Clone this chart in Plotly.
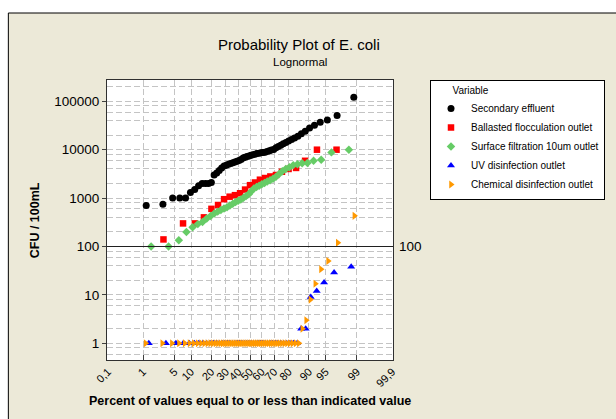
import plotly.graph_objects as go
from statistics import NormalDist

nd = NormalDist()

# ---- data (CFU/100mL) ----
secondary_effluent = [700, 750, 1000, 1000, 1000, 1300, 1500, 1800, 2000, 2000,
                      2000, 2100, 3000, 3300, 3700, 4200, 4600, 4800, 5000, 5200,
                      5400, 5600, 5750, 6000, 6300, 6700, 7000, 7200, 7400, 7700,
                      7900, 8100, 8300, 8400, 8600, 8750, 8900, 9200, 9500, 9800,
                      10100, 11000, 11700, 12400, 13200, 14100, 15100, 16200, 17400, 19000,
                      21400, 24000, 28000, 32000, 37000, 41000, 51000, 121000]
ballasted_flocculation = [140, 300, 300, 400, 600, 720, 950, 1070, 1150, 1260,
                          1500, 1850, 2100, 2400, 2600, 2800, 3000, 3500, 4000, 4200,
                          5900, 10000, 10000]
surface_filtration = [100, 100, 135, 200, 250, 290, 320, 380, 425, 480,
                      525, 565, 610, 650, 700, 760, 825, 880, 940, 1020,
                      1100, 1200, 1380, 1580, 1700, 1800, 1930, 2050, 2200, 2340,
                      2500, 2750, 3150, 3600, 4000, 4350, 4800, 5000, 5250, 5300,
                      5900, 6200, 8800, 10000]
uv_disinfection = [1] * 43 + [2, 2, 9, 12, 18, 29, 38]
chemical_disinfection = [1] * 52 + [2, 3, 8, 17, 34, 50, 120, 430]

series_names = ["Secondary effluent", "Ballasted flocculation outlet",
                "Surface filtration 10um outlet", "UV disinfection outlet",
                "Chemical disinfection outlet"]
series_values = [secondary_effluent, ballasted_flocculation, surface_filtration,
                 uv_disinfection, chemical_disinfection]

percent_ticks = [0.1, 1, 5, 10, 20, 30, 40, 50, 60, 70, 80, 90, 95, 99, 99.9]
percent_labels = ["0,1", "1", "5", "10", "20", "30", "40", "50", "60", "70",
                  "80", "90", "95", "99", "99,9"]
y_ticks = [1, 10, 100, 1000, 10000, 100000]
y_labels = ["1", "10", "100", "1000", "10000", "100000"]
reference_value = 100

# ---- styles ----
symbols = ["circle", "square", "diamond", "triangle-up", "triangle-right"]
colors = ["#000000", "#FF0000", "#66CC66", "#0000FF", "#FF9900"]
sizes = [7, 6.5, 6.5, 7, 7]

BEIGE = "#ECE9D8"
GRID = "#C4C4C4"
FONT = "Liberation Sans"

fig = go.Figure()
for name, vals, sym, col, sz in zip(series_names, series_values, symbols, colors, sizes):
    sv = sorted(vals)
    n = len(sv)
    # Minitab median-rank plotting positions, mapped to the normal probability scale
    xs = [nd.inv_cdf((i + 1 - 0.3) / (n + 0.4)) for i in range(n)]
    fig.add_trace(go.Scatter(
        x=xs, y=sv, mode="markers", name=name,
        marker=dict(symbol=sym, color=col, size=sz, line=dict(width=0)),
    ))

minor_grid = [m * 10 ** k for k in range(-1, 6) for m in (2, 4, 6, 8)]

fig.update_layout(
    width=616, height=419,
    margin=dict(l=107, r=222, t=80, b=59),
    paper_bgcolor=BEIGE, plot_bgcolor="white",
    font=dict(family=FONT, color="black"),
    showlegend=True,
    legend=dict(
        x=(430 - 107) / 287, y=1.0, xanchor="left", yanchor="top",
        bgcolor="white", bordercolor="black", borderwidth=1,
        font=dict(family=FONT, size=10, color="black"),
        title=dict(text="&nbsp;&nbsp;&nbsp;&nbsp;&nbsp;&nbsp;&nbsp;Variable",
                   font=dict(family=FONT, size=10)),
        tracegroupgap=0,
    ),
    xaxis=dict(
        range=[-3.11, 3.11],
        tickmode="array",
        tickvals=[nd.inv_cdf(p / 100) for p in percent_ticks],
        ticktext=percent_labels,
        tickangle=-45,
        ticks="inside", ticklen=5, tickcolor="#404040",
        tickfont=dict(size=11, color="black"),
        showgrid=True, gridcolor=GRID, griddash="6px,3px", gridwidth=1,
        showline=True, linecolor="#303030", linewidth=1, mirror=True,
        zeroline=False,
    ),
    yaxis=dict(
        type="log",
        range=[-0.345, 5.44],
        tickmode="array", tickvals=y_ticks, ticktext=y_labels,
        ticks="outside", ticklen=4, tickcolor="#404040",
        tickfont=dict(size=13.5, color="black"),
        showgrid=True, gridcolor=GRID, griddash="6px,3px", gridwidth=1,
        minor=dict(tickmode="array", tickvals=minor_grid, ticks="",
                   showgrid=True, gridcolor=GRID, griddash="6px,3px", gridwidth=1),
        showline=True, linecolor="#303030", linewidth=1, mirror=True,
        zeroline=False,
    ),
)

# outer frame: white margin strips + black border (as in the Minitab graph window)
fx0 = (8 - 107) / 287
fy0 = (360 - 13) / 280
fig.add_shape(type="rect", xref="paper", yref="paper", x0=-0.5, x1=1.9, y0=fy0, y1=1.5,
              fillcolor="white", line=dict(width=0), layer="below")
fig.add_shape(type="rect", xref="paper", yref="paper", x0=-0.5, x1=fx0, y0=-0.5, y1=1.5,
              fillcolor="white", line=dict(width=0), layer="below")
fig.add_shape(type="rect", xref="paper", yref="paper", x0=fx0, x1=1.9, y0=-0.5, y1=fy0,
              fillcolor="rgba(0,0,0,0)", line=dict(color="black", width=1), layer="below")

# reference line at 100
fig.add_shape(type="line", xref="x domain", x0=0, x1=1, yref="y",
              y0=reference_value, y1=reference_value,
              line=dict(color="#202020", width=1), layer="above")

fig.add_annotation(text=str(reference_value), xref="paper", x=1, xanchor="left", xshift=4,
                   yref="y", y=2, yanchor="middle", showarrow=False,
                   font=dict(size=13.5, color="black"))

# titles
fig.add_annotation(text="Probability Plot of E. coli", xref="paper", yref="paper",
                   x=(300 - 107) / 287, y=(360 - 44) / 280, xanchor="center", yanchor="middle",
                   showarrow=False, font=dict(size=15, color="black"))
fig.add_annotation(text="Lognormal", xref="paper", yref="paper",
                   x=(301 - 107) / 287, y=(360 - 62) / 280, xanchor="center", yanchor="middle",
                   showarrow=False, font=dict(size=11.5, color="black"))
fig.add_annotation(text="<b>CFU / 100mL</b>", xref="paper", yref="paper",
                   x=(35 - 107) / 287, y=0.5, xanchor="center", yanchor="middle",
                   textangle=-90, showarrow=False, font=dict(size=12.5, color="black"))
fig.add_annotation(text="<b>Percent of values equal to or less than indicated value</b>",
                   xref="paper", yref="paper",
                   x=(250 - 107) / 287, y=(360 - 401) / 280, xanchor="center", yanchor="middle",
                   showarrow=False, font=dict(size=12.5, color="black"))

fig.write_html("out.html", config={"displayModeBar": False},
               post_script="document.body.style.margin='0px';document.body.style.overflow='hidden';")
